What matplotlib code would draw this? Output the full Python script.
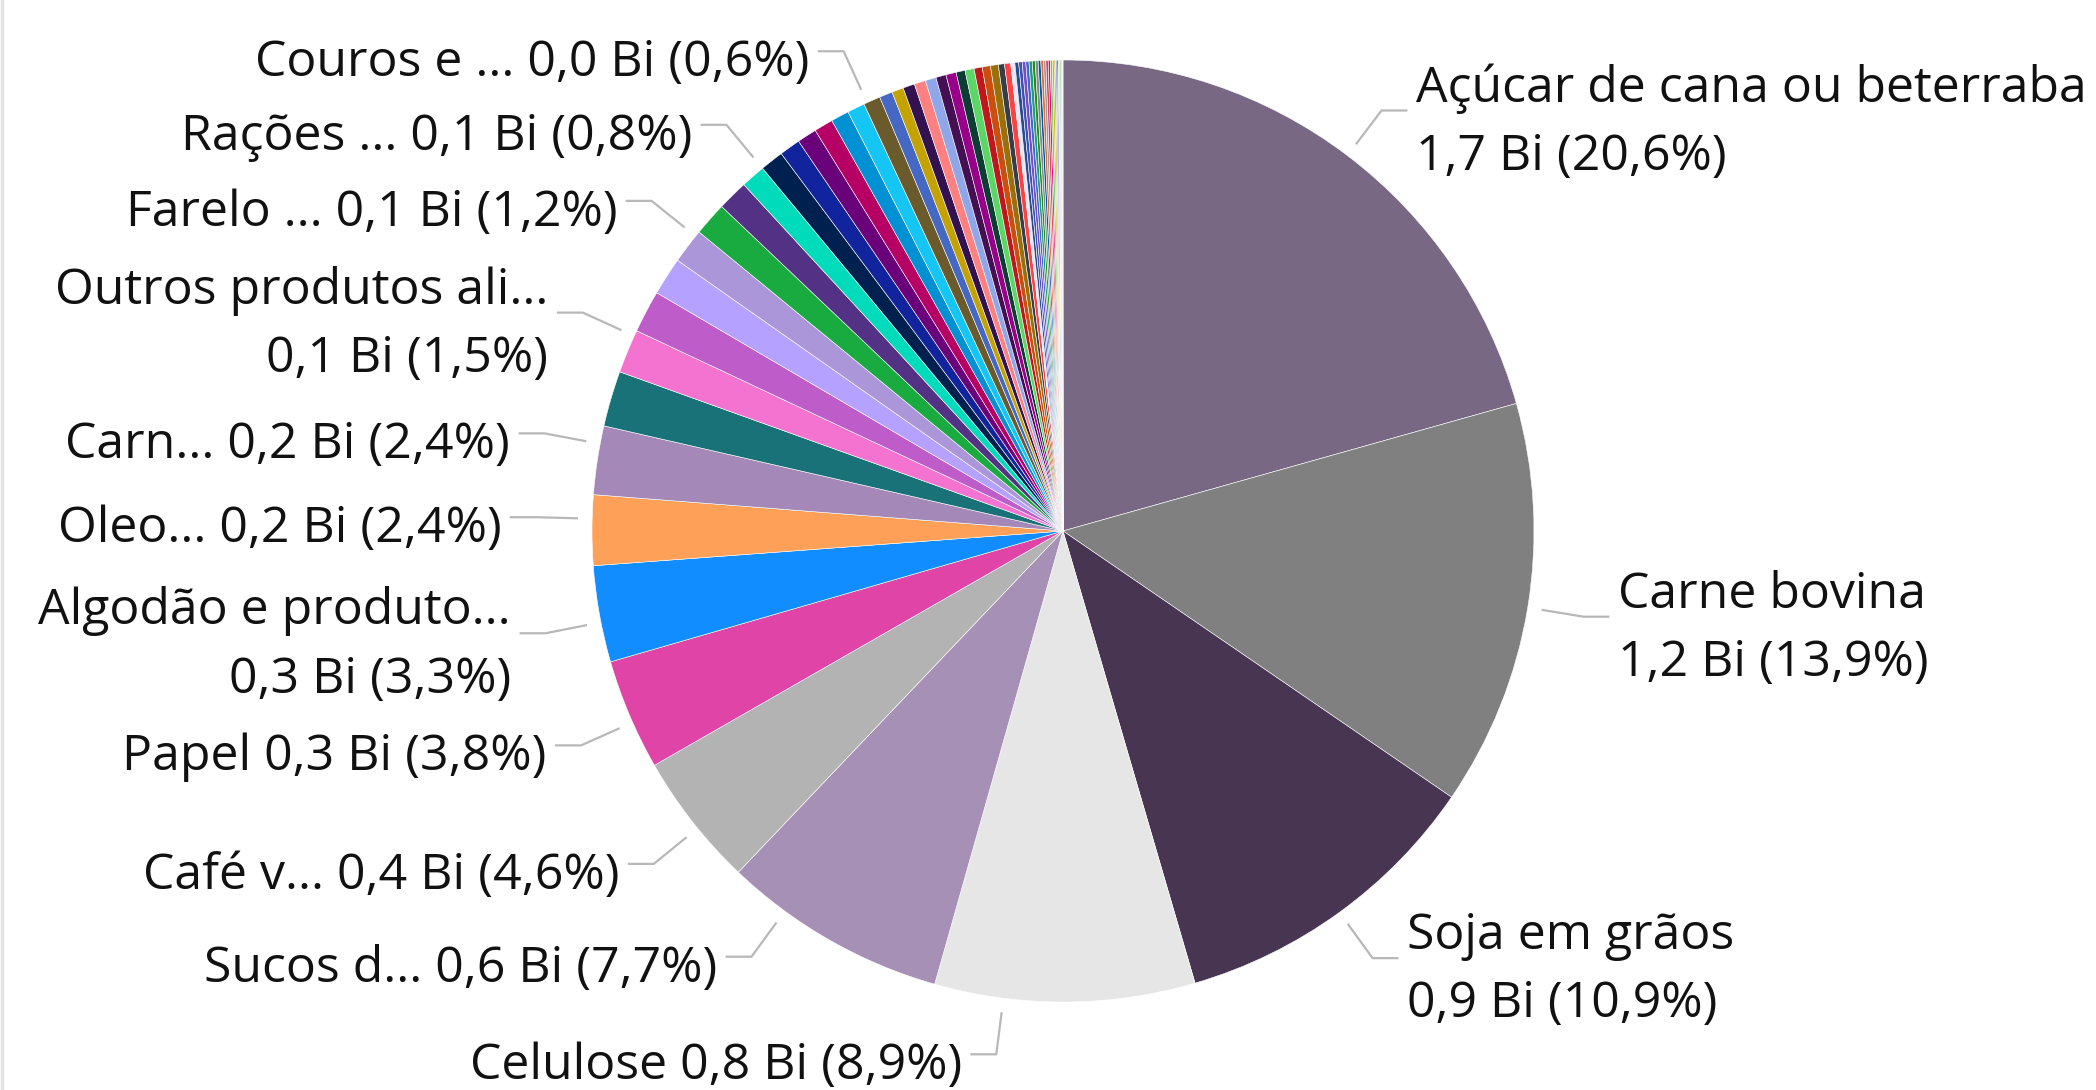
import numpy as np
import matplotlib.pyplot as plt

plt.rcParams['font.family'] = ['Open Sans', 'DejaVu Sans']

# share of each product (%), clockwise from 12 o'clock, largest first
shares = [20.6, 13.9, 10.9, 8.9, 7.7, 4.6, 3.8, 3.3, 2.4, 2.35,
          1.9, 1.5, 1.45, 1.3, 1.2, 1.15, 1.05, 0.84, 0.80, 0.72,
          0.67, 0.65, 0.62, 0.60, 0.58, 0.45, 0.40, 0.40, 0.39, 0.37,
          0.35, 0.35, 0.31, 0.31, 0.28, 0.28, 0.27, 0.21, 0.21, 0.14,
          0.13, 0.12, 0.12, 0.11, 0.11, 0.10, 0.10, 0.09, 0.09, 0.08,
          0.08, 0.07, 0.07, 0.06, 0.05, 0.05, 0.04, 0.04, 0.03, 0.03,
          0.02, 0.02, 0.01, 0.01]

slice_colors = ['#786884', '#808080', '#473552', '#E6E6E6', '#A690B6', '#B3B3B3',
                '#E044A7', '#118DFF', '#FFA058', '#A488B7', '#197278', '#F472D0',
                '#BE5DC9', '#B5A1FF', '#AC96DA', '#1AAB40', '#533285', '#00DBBC',
                '#002050', '#12239E', '#6B007B', '#B60064', '#0091D5', '#15C6F4',
                '#6B5A2C', '#4668C5', '#C4A200', '#34124F', '#FF8080', '#8FA7E8',
                '#450F54', '#99008A', '#0C3D33', '#5BD667', '#C2161D', '#C94F0F',
                '#99700A', '#373E4A', '#FF4141', '#E6E6FA',
                '#2B4A8C', '#3F51B5', '#744EC2', '#4668C5', '#1F9A85', '#25891C',
                '#7F8C8D', '#0057A2', '#E66C37', '#9B9B9B', '#D64550', '#EC008C',
                '#5BD667', '#D9B300', '#C4A200', '#8FA7E8', '#12239E', '#F5E663',
                '#888888', '#1AAB40', '#FF6300', '#002050', '#A0A0A0', '#744EC2']

# labelled slices: index into shares, text, extra angle shift of the leader
label_idx = [0, 1, 2, 3, 4, 5, 6, 7, 8, 9, 11, 14, 17, 23]
label_text = ['Açúcar de cana ou beterraba\n1,7 Bi (20,6%)',
              'Carne bovina\n1,2 Bi (13,9%)',
              'Soja em grãos\n0,9 Bi (10,9%)',
              'Celulose 0,8 Bi (8,9%)',
              'Sucos d... 0,6 Bi (7,7%)',
              'Café v... 0,4 Bi (4,6%)',
              'Papel 0,3 Bi (3,8%)',
              'Algodão e produto...\n0,3 Bi (3,3%)',
              'Oleo... 0,2 Bi (2,4%)',
              'Carn... 0,2 Bi (2,4%)',
              'Outros produtos ali...\n0,1 Bi (1,5%)',
              'Farelo ... 0,1 Bi (1,2%)',
              'Rações ... 0,1 Bi (0,8%)',
              'Couros e ... 0,0 Bi (0,6%)']
label_shift = [0, 0, 0, 7.5, 6.5, -1, -1, -1, 1.4, 2, 2, 1.5, 1.5, 1.5]

W, H = 2096, 1090
cx, cy, R = 1063, 531, 471
fig = plt.figure(figsize=(W / 100, H / 100), dpi=100)
ax = fig.add_axes([0, 0, 1, 1])

wedges, _ = ax.pie(shares, colors=slice_colors, startangle=90, counterclock=False,
                   radius=1, wedgeprops={'linewidth': 0.4, 'edgecolor': 'white'},
                   normalize=True)
ax.set_xlim(-cx / R, (W - cx) / R)
ax.set_ylim((cy - H) / R, cy / R)
ax.set_aspect('equal')
ax.axis('off')

for i, txt, sh in zip(label_idx, label_text, label_shift):
    w = wedges[i]
    mid = np.deg2rad((w.theta1 + w.theta2) / 2 - sh)
    x0, y0 = 1.03 * np.cos(mid), 1.03 * np.sin(mid)
    x1, y1 = 1.12 * np.cos(mid), 1.12 * np.sin(mid)
    side = 1 if x1 > 0 else -1
    x2 = x1 + side * 0.055
    ax.plot([x0, x1, x2], [y0, y1, y1], color='#B8B8B8', lw=1.6, solid_capstyle='butt')
    ax.text(x2 + side * 0.018, y1 - 0.026, txt, ha='left' if side > 0 else 'right',
            va='center', fontsize=36, color='#111111', linespacing=1.5,
            multialignment='left' if side > 0 else 'right')

# thin border at the left edge
fig.add_artist(plt.Line2D([0.0008, 0.0008], [0, 1], color='#E3E3E3', lw=2.5))

plt.savefig('out.png', dpi=100, facecolor='white')
